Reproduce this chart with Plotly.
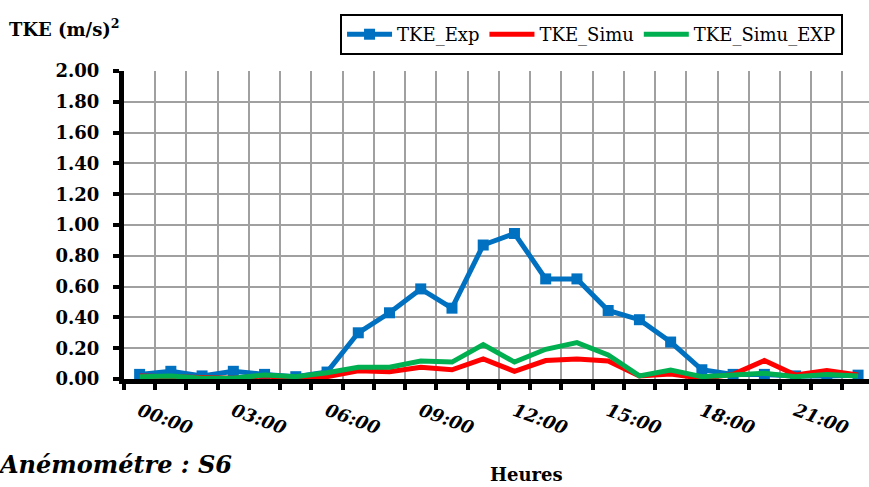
import plotly.graph_objects as go

hours = list(range(24))
tick_hours = [0, 3, 6, 9, 12, 15, 18, 21]
tick_labels = ["00:00", "03:00", "06:00", "09:00", "12:00", "15:00", "18:00", "21:00"]

tke_exp = [0.03, 0.05, 0.02, 0.05, 0.03, 0.015, 0.045, 0.30, 0.43, 0.585, 0.46, 0.87, 0.945,
           0.65, 0.65, 0.445, 0.385, 0.24, 0.06, 0.03, 0.03, 0.02, 0.02, 0.025]
tke_simu = [0.02, 0.015, 0.005, 0.005, 0.02, 0.005, 0.015, 0.054, 0.047, 0.076, 0.06, 0.13, 0.05,
            0.12, 0.13, 0.117, 0.02, 0.032, 0.005, 0.03, 0.12, 0.026, 0.055, 0.026]
tke_simu_exp = [0.015, 0.02, 0.005, 0.005, 0.026, 0.015, 0.041, 0.076, 0.076, 0.117, 0.11, 0.223,
                0.11, 0.193, 0.236, 0.156, 0.02, 0.058, 0.015, 0.026, 0.037, 0.015, 0.03, 0.02]

SERIF = "DejaVu Serif"

fig = go.Figure()
fig.add_trace(go.Scatter(x=hours, y=tke_exp, name="TKE_Exp", mode="lines+markers",
                         line=dict(color="#0070C0", width=5),
                         marker=dict(symbol="square", size=11, color="#0070C0")))
fig.add_trace(go.Scatter(x=hours, y=tke_simu, name="TKE_Simu", mode="lines",
                         line=dict(color="#FF0000", width=5)))
fig.add_trace(go.Scatter(x=hours, y=tke_simu_exp, name="TKE_Simu_EXP", mode="lines",
                         line=dict(color="#00B050", width=5)))

fig.update_layout(
    width=869, height=487,
    margin=dict(l=124, r=0, t=71, b=108),
    paper_bgcolor="white", plot_bgcolor="white",
    font=dict(family=SERIF, color="black"),
    showlegend=True,
    legend=dict(orientation="h", x=0.29, xanchor="left", y=1.185, yanchor="top",
                bordercolor="black", borderwidth=2, font=dict(family=SERIF, size=18),
                itemwidth=45, tracegroupgap=0),
    xaxis=dict(range=[-0.5, 23.35], tickmode="array", tickvals=tick_hours, ticktext=tick_labels,
               tickangle=20, ticks="", showgrid=False, zeroline=False,
               showline=True, linecolor="black", linewidth=5,
               ticklabelstandoff=10,
               tickfont=dict(family=SERIF, size=18, weight="bold", style="italic"),
               minor=dict(tick0=-0.5, dtick=1, showgrid=True, gridcolor="#A0A0A0", gridwidth=1.5,
                          ticks="outside", ticklen=6, tickwidth=4, tickcolor="black")),
    yaxis=dict(range=[0, 2.0], tickmode="linear", tick0=0, dtick=0.2, tickformat=".2f",
               showgrid=True, gridcolor="#A0A0A0", gridwidth=1.5, zeroline=False,
               showline=True, linecolor="black", linewidth=5,
               ticks="outside", ticklen=6, tickwidth=4, tickcolor="black",
               ticklabelstandoff=10,
               tickfont=dict(family=SERIF, size=18, weight="bold")),
    annotations=[
        dict(text="TKE (m/s)<sup>2</sup>", xref="paper", yref="paper", x=-0.157, y=1.14,
             xanchor="left", yanchor="middle", showarrow=False,
             font=dict(family=SERIF, size=18, weight="bold")),
        dict(text="Anémométre : S6", xref="paper", yref="paper", x=-0.172, y=-0.224,
             xanchor="left", yanchor="top", showarrow=False,
             font=dict(family=SERIF, size=24, weight="bold", style="italic")),
        dict(text="Heures", xref="paper", yref="paper", x=0.54, y=-0.27,
             xanchor="center", yanchor="top", showarrow=False,
             font=dict(family=SERIF, size=18, weight="bold")),
    ],
)

fig.write_html("out.html", config={"displayModeBar": False},
               post_script="document.body.style.margin='0';")
